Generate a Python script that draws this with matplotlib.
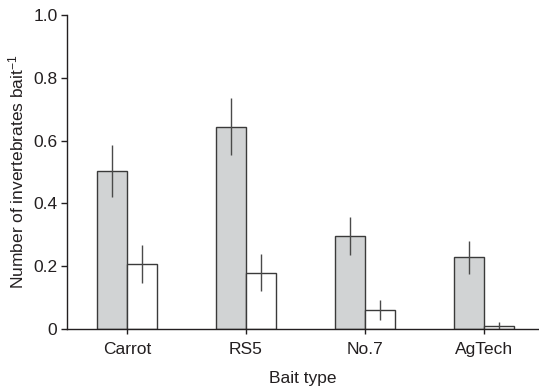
import numpy as np
import matplotlib
matplotlib.use("Agg")
import matplotlib.pyplot as plt

plt.rcParams['font.family'] = ['Liberation Sans', 'DejaVu Sans']
plt.rcParams['mathtext.default'] = 'regular'

# data
baits = ['Carrot', 'RS5', 'No.7', 'AgTech']
grey_mean = [0.503, 0.645, 0.297, 0.228]
grey_err = [0.083, 0.090, 0.060, 0.053]
white_mean = [0.208, 0.180, 0.061, 0.009]
white_err = [0.060, 0.060, 0.033, 0.013]

ink = '#231f20'
x = np.arange(len(baits))
w = 0.25

fig = plt.figure(figsize=(5.39, 3.88), dpi=100)
ax = fig.add_axes([0.124, 0.152, 0.876, 0.809])

ax.bar(x - w / 2, grey_mean, w, color='#d1d3d4', edgecolor='#3a3a3a', linewidth=1.0)
ax.bar(x + w / 2, white_mean, w, color='white', edgecolor='#3a3a3a', linewidth=1.0)
ax.errorbar(x - w / 2, grey_mean, yerr=grey_err, fmt='none', ecolor='#4a4a4a',
            elinewidth=1.0, capsize=0)
ax.errorbar(x + w / 2, white_mean, yerr=white_err, fmt='none', ecolor='#4a4a4a',
            elinewidth=1.0, capsize=0)

ax.set_xlim(-0.504, 3.46)
ax.set_ylim(0, 1.0)
ax.set_yticks([0, 0.2, 0.4, 0.6, 0.8, 1.0])
ax.set_yticklabels(['0', '0.2', '0.4', '0.6', '0.8', '1.0'])
ax.set_xticks(x)
ax.set_xticklabels(baits)

for s in ['top', 'right']:
    ax.spines[s].set_visible(False)
for s in ['left', 'bottom']:
    ax.spines[s].set_color(ink)
    ax.spines[s].set_linewidth(1.0)

ax.tick_params(axis='both', colors=ink, labelsize=12.5, width=1.0, length=4.3, pad=2.5)
ax.tick_params(axis='x', length=3.6, pad=6)

ax.set_xlabel('Bait type', fontsize=12.5, color=ink, labelpad=10)
ax.set_ylabel('Number of invertebrates bait$^{-1}$', fontsize=12.5, color=ink, labelpad=5)

fig.savefig('out.png', dpi=100)
